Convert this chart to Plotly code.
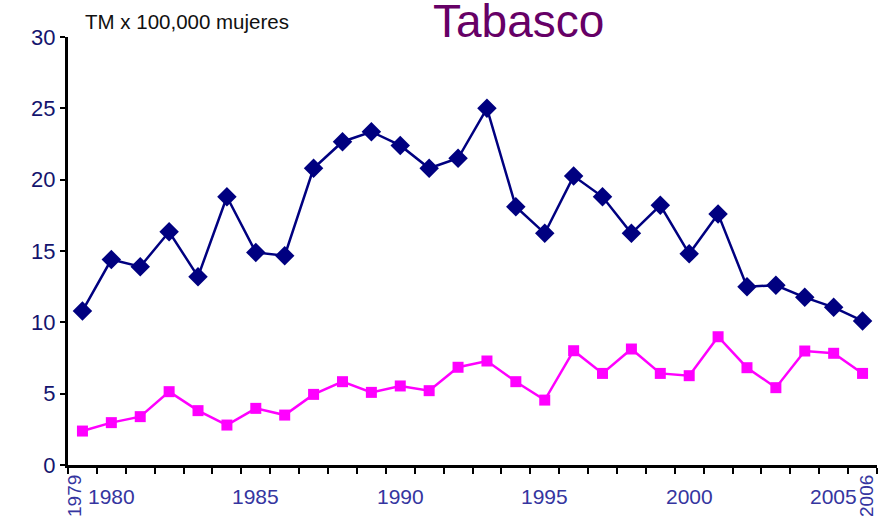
import plotly.graph_objects as go

years = list(range(1979, 2007))
serie_azul = [10.8, 14.4, 13.9, 16.35, 13.2, 18.8, 14.9, 14.67, 20.8, 22.66,
              23.36, 22.4, 20.8, 21.5, 25.0, 18.1, 16.24, 20.25, 18.8, 16.24,
              18.2, 14.8, 17.6, 12.5, 12.6, 11.75, 11.05, 10.1]
serie_rosa = [2.38, 2.97, 3.39, 5.14, 3.81, 2.8, 3.97, 3.5, 4.95, 5.84,
              5.09, 5.54, 5.21, 6.85, 7.29, 5.84, 4.55, 8.01, 6.42, 8.13,
              6.42, 6.26, 8.99, 6.82, 5.42, 7.99, 7.83, 6.42]
label_years_h = [1980, 1985, 1990, 1995, 2000, 2005]
label_years_v = [1979, 2006]
y_ticks = [0, 5, 10, 15, 20, 25, 30]

W, H = 883, 519
L, R, T, B = 68, 6, 37, 54
ph = H - T - B
pw = W - L - R

def py(ypix):
    return (H - B - ypix) / ph

def px(xpix):
    return (xpix - L) / pw

fig = go.Figure()
fig.add_trace(go.Scatter(x=years, y=serie_azul, mode="lines+markers",
                         line=dict(color="#000080", width=2.5),
                         marker=dict(symbol="diamond", size=15, color="#000080"),
                         showlegend=False, cliponaxis=False))
fig.add_trace(go.Scatter(x=years, y=serie_rosa, mode="lines+markers",
                         line=dict(color="#ff00ff", width=2.5),
                         marker=dict(symbol="square", size=11, color="#ff00ff"),
                         showlegend=False, cliponaxis=False))

annotations = []
for yr in label_years_h:
    annotations.append(dict(x=yr, y=py(496), xref="x", yref="paper", text=str(yr),
                            showarrow=False, xanchor="center", yanchor="middle",
                            font=dict(family="Liberation Sans, Arial", size=21, color="#3535a0")))
for yr, xp in zip(label_years_v, [74, 866]):
    annotations.append(dict(x=px(xp), y=py(496), xref="paper", yref="paper", text=str(yr),
                            showarrow=False, xanchor="center", yanchor="middle", textangle=-90,
                            font=dict(family="Liberation Sans, Arial", size=19, color="#3535a0")))
annotations.append(dict(x=px(518), y=py(21), xref="paper", yref="paper", text="Tabasco",
                        showarrow=False, xanchor="center", yanchor="middle",
                        font=dict(family="Liberation Sans, Arial", size=46, color="#660066")))
annotations.append(dict(x=px(83), y=py(22), xref="paper", yref="paper", text="TM x 100,000 mujeres",
                        showarrow=False, xanchor="left", yanchor="middle",
                        font=dict(family="Liberation Sans, Arial", size=20.5, color="#111111")))

fig.update_layout(
    width=W, height=H,
    margin=dict(l=L, r=R, t=T, b=B),
    paper_bgcolor="white", plot_bgcolor="white",
    annotations=annotations,
    xaxis=dict(range=[1978.5, 2006.5], showgrid=False, zeroline=False,
               showline=True, linecolor="black", linewidth=3,
               tickmode="array", tickvals=[y - 0.5 for y in years] + [2006.5],
               ticktext=[""] * 29, ticks="outside", ticklen=6, tickwidth=2,
               tickcolor="black"),
    yaxis=dict(range=[0, 30], showgrid=False, zeroline=False,
               showline=True, linecolor="black", linewidth=3,
               tickmode="array", tickvals=y_ticks, ticks="outside", ticklen=5,
               tickwidth=2, tickcolor="black",
               tickfont=dict(family="Liberation Sans, Arial", size=22, color="#14146e")),
)

fig.write_html("out.html", config={"displayModeBar": False},
               post_script="document.body.style.margin='0';document.body.style.overflow='hidden';")
